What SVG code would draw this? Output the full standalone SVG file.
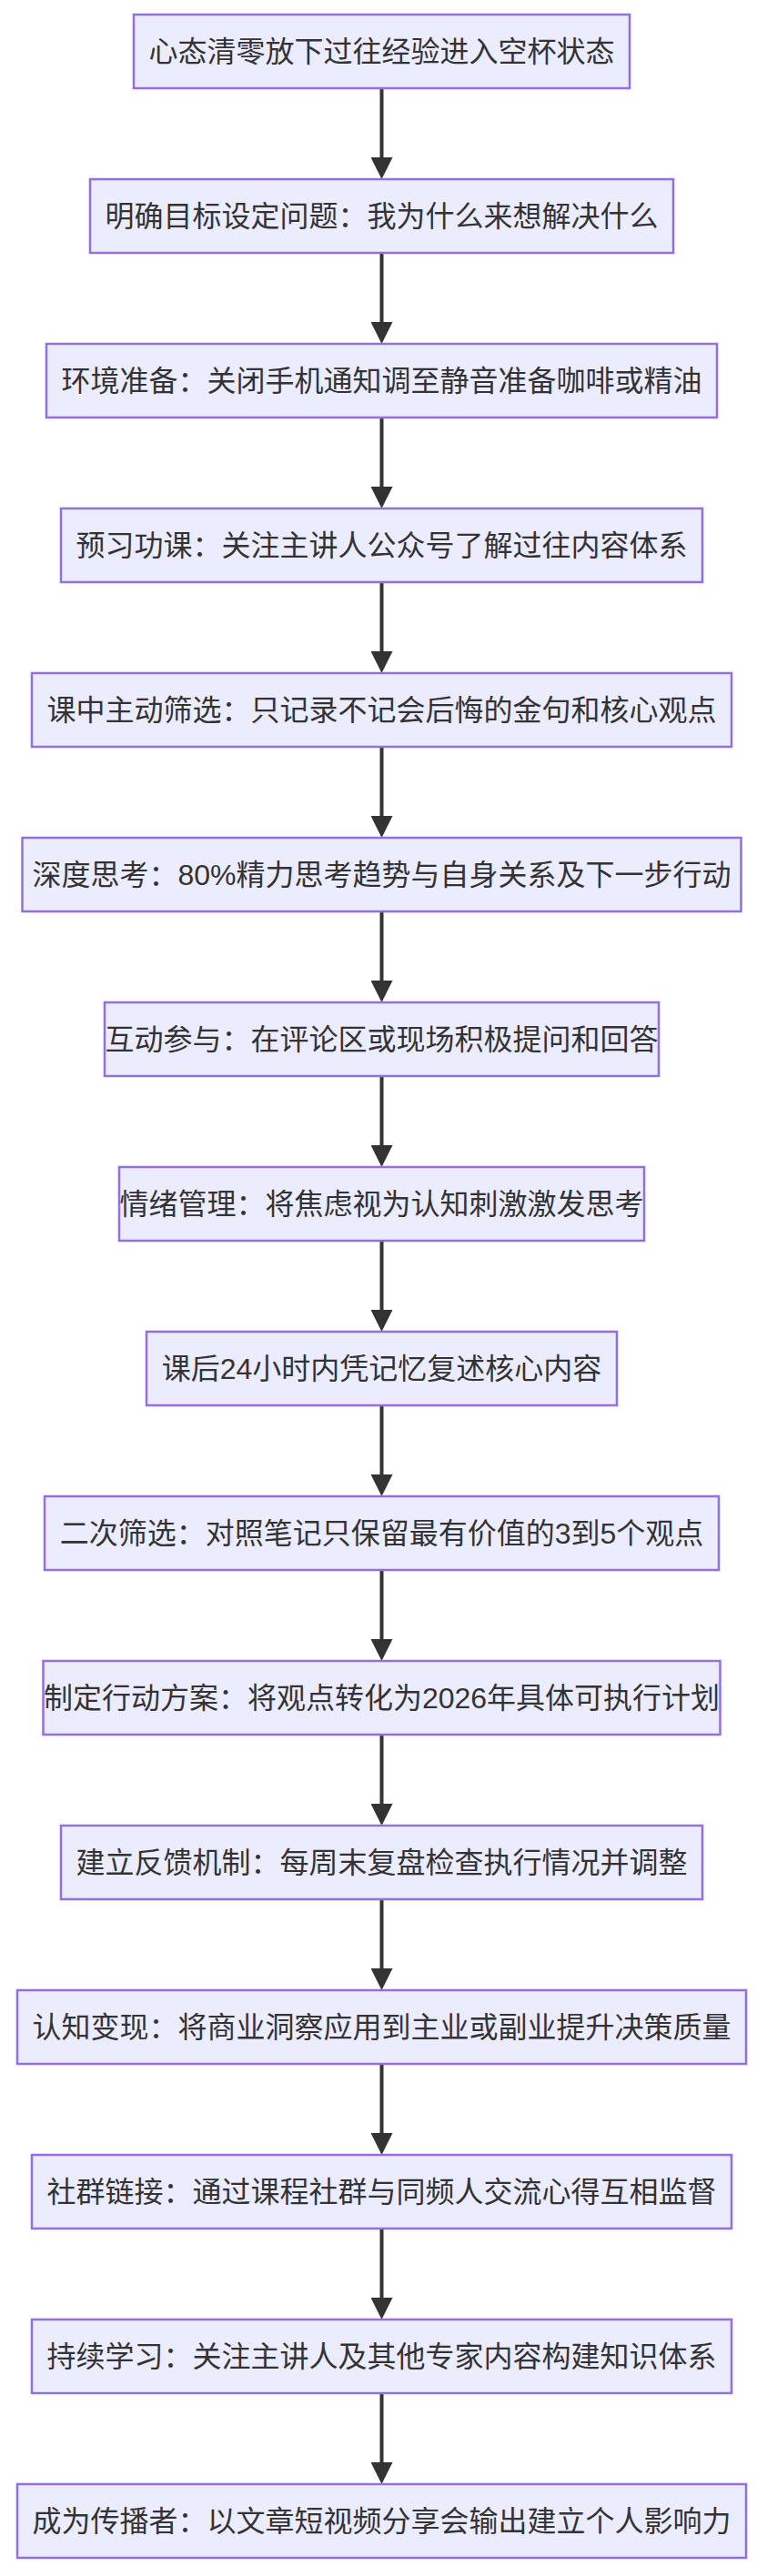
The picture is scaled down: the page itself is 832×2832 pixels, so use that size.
<svg xmlns="http://www.w3.org/2000/svg" width="832" height="2832" viewBox="0 0 832 2832">
<style>
.n rect{fill:#ECECFF;stroke:#9370DB;stroke-width:2.5}
.n text{font-family:"Liberation Sans","Noto Sans CJK SC",sans-serif;font-size:32px;fill:#333;text-anchor:middle;dominant-baseline:central}
.e path{stroke:#333;stroke-width:4;fill:none;marker-end:url(#ah)}
</style>
<defs>
<marker id="ah" markerUnits="userSpaceOnUse" markerWidth="24" markerHeight="24" viewBox="0 0 24 24" refX="14" refY="12" orient="auto">
<path d="M0,0 L24,12 L0,24 z" fill="#333"/>
</marker>
</defs>
<rect width="832" height="2832" fill="#fff"/>
<g id="edges" class="e">
<path d="M419.5,97 V187"/>
<path d="M419.5,278 V368"/>
<path d="M419.5,459 V549"/>
<path d="M419.5,640 V730"/>
<path d="M419.5,821 V911"/>
<path d="M419.5,1002 V1092"/>
<path d="M419.5,1183 V1273"/>
<path d="M419.5,1364 V1454"/>
<path d="M419.5,1545 V1635"/>
<path d="M419.5,1726 V1816"/>
<path d="M419.5,1907 V1997"/>
<path d="M419.5,2088 V2178"/>
<path d="M419.5,2269 V2359"/>
<path d="M419.5,2450 V2540"/>
<path d="M419.5,2631 V2721"/>
</g>
<g id="n1" class="n"><rect x="147" y="16" width="545" height="81"/><text x="419.5" y="56.5">心态清零放下过往经验进入空杯状态</text></g>
<g id="n2" class="n"><rect x="99" y="197" width="641" height="81"/><text x="419.5" y="237.5">明确目标设定问题：我为什么来想解决什么</text></g>
<g id="n3" class="n"><rect x="51" y="378" width="737" height="81"/><text x="419.5" y="418.5">环境准备：关闭手机通知调至静音准备咖啡或精油</text></g>
<g id="n4" class="n"><rect x="67" y="559" width="705" height="81"/><text x="419.5" y="599.5">预习功课：关注主讲人公众号了解过往内容体系</text></g>
<g id="n5" class="n"><rect x="35" y="740" width="769" height="81"/><text x="419.5" y="780.5">课中主动筛选：只记录不记会后悔的金句和核心观点</text></g>
<g id="n6" class="n"><rect x="24.5" y="921" width="790" height="81"/><text x="419.5" y="961.5">深度思考：80%精力思考趋势与自身关系及下一步行动</text></g>
<g id="n7" class="n"><rect x="115" y="1102" width="609" height="81"/><text x="419.5" y="1142.5">互动参与：在评论区或现场积极提问和回答</text></g>
<g id="n8" class="n"><rect x="131" y="1283" width="577" height="81"/><text x="419.5" y="1323.5">情绪管理：将焦虑视为认知刺激激发思考</text></g>
<g id="n9" class="n"><rect x="161" y="1464" width="517" height="81"/><text x="419.5" y="1504.5">课后24小时内凭记忆复述核心内容</text></g>
<g id="n10" class="n"><rect x="49" y="1645" width="741" height="81"/><text x="419.5" y="1685.5">二次筛选：对照笔记只保留最有价值的3到5个观点</text></g>
<g id="n11" class="n"><rect x="47.5" y="1826" width="744" height="81"/><text x="419.5" y="1866.5">制定行动方案：将观点转化为2026年具体可执行计划</text></g>
<g id="n12" class="n"><rect x="67" y="2007" width="705" height="81"/><text x="419.5" y="2047.5">建立反馈机制：每周末复盘检查执行情况并调整</text></g>
<g id="n13" class="n"><rect x="19" y="2188" width="801" height="81"/><text x="419.5" y="2228.5">认知变现：将商业洞察应用到主业或副业提升决策质量</text></g>
<g id="n14" class="n"><rect x="35" y="2369" width="769" height="81"/><text x="419.5" y="2409.5">社群链接：通过课程社群与同频人交流心得互相监督</text></g>
<g id="n15" class="n"><rect x="35" y="2550" width="769" height="81"/><text x="419.5" y="2590.5">持续学习：关注主讲人及其他专家内容构建知识体系</text></g>
<g id="n16" class="n"><rect x="19" y="2731" width="801" height="81"/><text x="419.5" y="2771.5">成为传播者：以文章短视频分享会输出建立个人影响力</text></g>
</svg>
